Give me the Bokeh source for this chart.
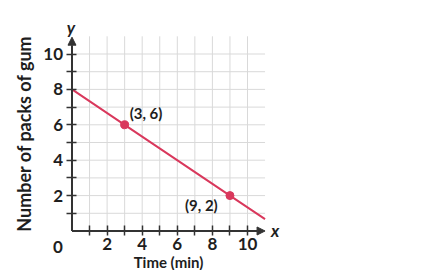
from bokeh.plotting import figure
from bokeh.models import FixedTicker, Arrow, NormalHead, Label, Range1d
from bokeh.embed import file_html
from bokeh.resources import INLINE

# data
line_x = [0, 3, 9, 11]
line_y = [8, 6, 2, 0.67]
pts_x = [3, 9]
pts_y = [6, 2]
pt_labels = ["(3, 6)", "(9, 2)"]
major_ticks = [2, 4, 6, 8, 10]
minor_ticks = [1, 3, 5, 7, 9]
grid_pos = [1, 2, 3, 4, 5, 6, 7, 8, 9, 10]
grid_extent = [0, 11]
x_title = "Time (min)"
y_title = "Number of packs of gum"

RED = "#d9385c"
AX = "#333333"
GRID = "#d9d9d9"
TXT = "#1e1e1e"
FONT = "Lato"

p = figure(width=433, height=270, output_backend="svg", toolbar_location=None,
           x_range=Range1d(-4.074, 20.598), y_range=Range1d(-2.232, 13.023),
           min_border=0)
p.outline_line_color = None
p.xgrid.visible = False
p.ygrid.visible = False

# grid
n = len(grid_pos)
p.segment(x0=grid_pos, y0=[grid_extent[0]] * n, x1=grid_pos, y1=[grid_extent[1]] * n,
          line_color=GRID, line_width=1)
p.segment(x0=[grid_extent[0]] * n, y0=grid_pos, x1=[grid_extent[1]] * n, y1=grid_pos,
          line_color=GRID, line_width=1)

for ax in (p.xaxis[0], p.yaxis[0]):
    ax.fixed_location = 0
    ax.bounds = (0, 11)
    ax.ticker = FixedTicker(ticks=major_ticks, minor_ticks=minor_ticks)
    ax.axis_line_color = None
    ax.major_tick_line_color = AX
    ax.minor_tick_line_color = AX
    ax.major_tick_line_width = 1.5
    ax.minor_tick_line_width = 1.5
    ax.major_tick_in = 5
    ax.major_tick_out = 5
    ax.minor_tick_in = 5
    ax.minor_tick_out = 5
    ax.major_label_text_font = FONT
    ax.major_label_text_font_size = "17px"
    ax.major_label_text_font_style = "bold"
    ax.major_label_text_color = TXT
    ax.axis_label_text_font = FONT
    ax.axis_label_text_font_size = "18px"
    ax.axis_label_text_font_style = "bold"
    ax.axis_label_text_color = TXT

p.xaxis.axis_label = x_title
p.yaxis.axis_label = y_title
p.xaxis.axis_label_text_font_size = "15px"
p.xaxis.major_label_standoff = 2
p.xaxis.axis_label_standoff = 0
p.yaxis.major_label_standoff = 4
p.yaxis.axis_label_standoff = 5

# axes with arrows
p.add_layout(Arrow(x_start=0, y_start=0, x_end=11, y_end=0, line_color=AX, line_width=2,
                   end=NormalHead(size=8, fill_color=AX, line_color=AX)))
p.add_layout(Arrow(x_start=0, y_start=0, x_end=0, y_end=10.95, line_color=AX, line_width=2,
                   end=NormalHead(size=8, fill_color=AX, line_color=AX)))

p.line(line_x, line_y, line_color=RED, line_width=2)
p.scatter(pts_x, pts_y, size=8, fill_color=RED, line_color=RED)

p.add_layout(Label(x=pts_x[0], y=pts_y[0], x_offset=5, y_offset=3, text=pt_labels[0],
                   text_font=FONT, text_font_size="15px", text_font_style="bold", text_color=TXT))
p.add_layout(Label(x=pts_x[1], y=pts_y[1], x_offset=-45, y_offset=-18, text=pt_labels[1],
                   text_font=FONT, text_font_size="15px", text_font_style="bold", text_color=TXT))

p.add_layout(Label(x=0, y=0, x_offset=-14, y_offset=-16, text="0", text_align="center",
                   text_baseline="middle",
                   text_font=FONT, text_font_size="17px", text_font_style="bold", text_color=TXT))
p.add_layout(Label(x=0, y=11, x_offset=-1, y_offset=9, text="y", text_align="center",
                   text_baseline="middle",
                   text_font=FONT, text_font_size="17px", text_font_style="bold italic",
                   text_color=TXT))
p.add_layout(Label(x=11, y=0, x_offset=6, y_offset=0, text="x", text_baseline="middle",
                   text_font=FONT, text_font_size="17px", text_font_style="bold italic",
                   text_color=TXT))

open("out.html", "w").write(file_html(p, INLINE))
